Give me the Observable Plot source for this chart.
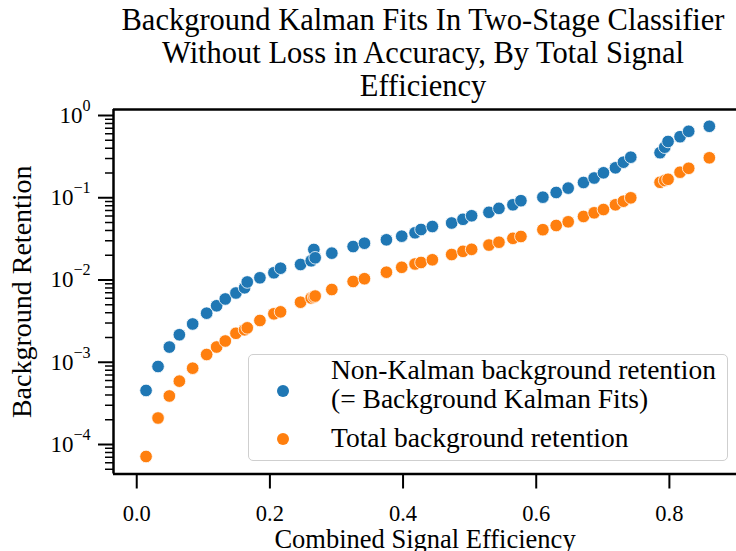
<!DOCTYPE html>
<html><head><meta charset="utf-8">
<script src="https://cdn.jsdelivr.net/npm/d3@7"></script>
<script src="https://cdn.jsdelivr.net/npm/@observablehq/plot@0.6"></script>
<style>
body{margin:0;background:#fff;font-family:"Liberation Serif",serif;color:#000;}
#wrap{position:relative;width:736px;height:551px;overflow:hidden;background:#fff;font-family:"Liberation Serif",serif;}
#title{height:100px;box-sizing:border-box;padding-top:4px;padding-left:110px;text-align:center;font-size:30.5px;line-height:33px;white-space:nowrap;font-family:"Liberation Serif",serif;}
#chart svg{display:block;}
#chart svg, #chart svg text, #chart svg tspan{font-family:"Liberation Serif",serif !important;}
#legend{position:absolute;left:248px;top:354px;width:480px;height:107px;box-sizing:border-box;border:1.5px solid #cfcfcf;border-radius:5px;background:rgba(255,255,255,0.8);}
.lg-dot{position:absolute;width:12px;height:12px;border-radius:50%;}
.lg-text{position:absolute;font-size:27.5px;line-height:29px;white-space:nowrap;font-family:"Liberation Serif",serif;}
</style></head><body>
<div id="wrap">
<div id="title"></div>
<div id="chart"></div>
<div id="legend"></div>
</div>
<script>
const titleLines = ["Background Kalman Fits In Two-Stage Classifier", "Without Loss in Accuracy, By Total Signal", "Efficiency"];
const xLabel = "Combined Signal Efficiency";
const yLabel = "Background Retention";
const seriesNames = [["Non-Kalman background retention", "(= Background Kalman Fits)"], ["Total background retention"]];
const seriesColors = ["#1f77b4", "#ff7f0e"];
const xTicks = [0, 0.2, 0.4, 0.6, 0.8];
const yTicks = [1e-4, 1e-3, 1e-2, 1e-1, 1];

const efficiency = [0.014,0.032,0.049,0.064,0.084,0.105,0.120,0.133,0.149,0.162,0.166,0.185,0.206,0.216,0.246,0.262,0.266,0.268,0.293,0.325,0.342,0.375,0.398,0.418,0.427,0.444,0.473,0.490,0.503,0.529,0.544,0.565,0.577,0.610,0.630,0.648,0.671,0.687,0.701,0.719,0.731,0.742,0.786,0.793,0.798,0.816,0.829,0.860];
const nonKalman = [4.54e-4,8.88e-4,1.53e-3,2.16e-3,2.92e-3,3.95e-3,4.86e-3,5.88e-3,6.95e-3,8.04e-3,9.46e-3,1.064e-2,1.224e-2,1.391e-2,1.543e-2,1.711e-2,2.35e-2,1.862e-2,2.12e-2,2.55e-2,2.80e-2,3.08e-2,3.41e-2,3.75e-2,4.11e-2,4.47e-2,4.93e-2,5.47e-2,6.04e-2,6.65e-2,7.43e-2,8.21e-2,9.21e-2,0.1016,0.1159,0.1310,0.1532,0.1738,0.2011,0.2312,0.2706,0.3112,0.3530,0.4118,0.4831,0.5523,0.6427,0.7393];
const total = [7.15e-5,2.10e-4,3.89e-4,5.89e-4,8.47e-4,1.242e-3,1.532e-3,1.813e-3,2.25e-3,2.48e-3,2.62e-3,3.22e-3,3.88e-3,4.10e-3,5.37e-3,6.04e-3,6.21e-3,6.38e-3,7.66e-3,9.59e-3,1.037e-2,1.244e-2,1.427e-2,1.566e-2,1.633e-2,1.761e-2,2.04e-2,2.23e-2,2.36e-2,2.66e-2,2.88e-2,3.21e-2,3.38e-2,4.09e-2,4.60e-2,5.10e-2,5.92e-2,6.56e-2,7.19e-2,8.21e-2,9.08e-2,9.98e-2,0.1542,0.1621,0.1677,0.2045,0.2282,0.3061];

document.getElementById("title").innerHTML = titleLines.join("<br>");

const xDomain = [-0.0349, 0.9008];
const yDomain = [4.38e-5, 1.183];

const minorTicks = [];
for (const d of [1e-5, 1e-4, 1e-3, 1e-2, 1e-1]) for (let k = 2; k <= 9; k++) {
  const v = k * d;
  if (v >= yDomain[0] && v <= yDomain[1]) minorTicks.push(v);
}

const rows = [];
efficiency.forEach((e, i) => rows.push({e, v: nonKalman[i], s: 0}));
efficiency.forEach((e, i) => rows.push({e, v: total[i], s: 1}));

const serif = '"Liberation Serif", serif';
const chart = Plot.plot({
  width: 736, height: 451,
  marginTop: 9, marginBottom: 77.5, marginLeft: 113, marginRight: 0,
  style: {fontFamily: serif, fontSize: "23px", background: "white", color: "black", overflow: "visible"},
  x: {domain: xDomain},
  y: {type: "log", domain: yDomain},
  marks: [
    Plot.dot(rows, {x: "e", y: "v", r: 6.3, fill: d => seriesColors[d.s], stroke: "white", strokeWidth: 0.8}),
    Plot.axisY(minorTicks, {anchor: "left", tickSize: 8, strokeWidth: 1.5, tickFormat: () => "", label: null}),
    Plot.axisY(yTicks, {anchor: "left", tickSize: 15, strokeWidth: 2, tickPadding: 8, fontFamily: serif, tickFormat: d => "10^" + Math.round(Math.log10(d)), label: null}),
    Plot.axisX(xTicks, {anchor: "bottom", tickSize: 15, strokeWidth: 2, tickPadding: 16, fontSize: 22.5, fontFamily: serif, tickFormat: d3.format(".1f"), label: null}),
    Plot.ruleX([xDomain[0]], {strokeWidth: 2.5}),
    Plot.ruleY([yDomain[0]], {strokeWidth: 2.5}),
    Plot.ruleY([yDomain[1]], {strokeWidth: 2.5}),
    Plot.text([yLabel], {frameAnchor: "left", rotate: -90, dx: -91, textAnchor: "middle", lineAnchor: "middle", fontSize: 28, fontFamily: serif}),
    Plot.text([xLabel], {frameAnchor: "bottom", dy: 66, textAnchor: "middle", lineAnchor: "middle", fontSize: 26.5, fontFamily: serif})
  ]
});
document.getElementById("chart").appendChild(chart);

chart.querySelectorAll('g[aria-label="y-axis tick label"] text').forEach(t => {
  const s = t.textContent;
  if (!s.startsWith("10^")) return;
  const exp = s.slice(3).replace("-", "\u2212");
  t.textContent = "10";
  const ts = document.createElementNS("http://www.w3.org/2000/svg", "tspan");
  ts.setAttribute("font-size", "0.7em");
  ts.setAttribute("dy", "-0.75em");
  ts.textContent = exp;
  t.appendChild(ts);
});

const lg = document.getElementById("legend");
const lgItems = [
  {c: seriesColors[0], lines: seriesNames[0], dotTop: 30, textTop: 0},
  {c: seriesColors[1], lines: seriesNames[1], dotTop: 78, textTop: 68}
];
lgItems.forEach(it => {
  const dot = document.createElement("div");
  dot.className = "lg-dot";
  dot.style.left = "28px"; dot.style.top = it.dotTop + "px"; dot.style.background = it.c;
  lg.appendChild(dot);
  const tx = document.createElement("div");
  tx.className = "lg-text";
  tx.style.left = "82px"; tx.style.top = it.textTop + "px";
  tx.innerHTML = it.lines.join("<br>");
  lg.appendChild(tx);
});
</script>
</body></html>
